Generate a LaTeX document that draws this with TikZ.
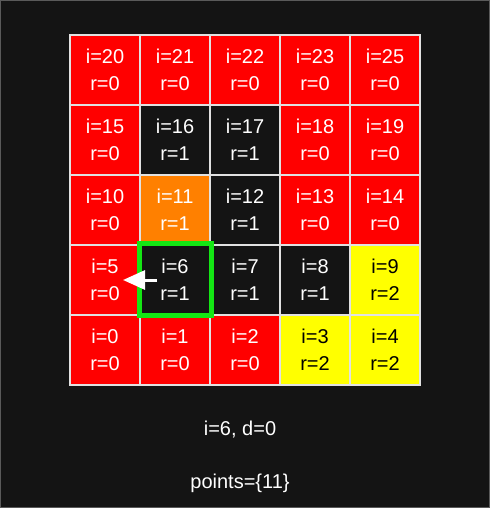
\documentclass[tikz,border=0pt]{standalone}
\usepackage{fontspec}
\setmainfont{Liberation Sans}
\usepackage{tikz}
\usetikzlibrary{arrows.meta}

\definecolor{bgdark}{RGB}{20,20,20}
\definecolor{framegray}{RGB}{90,90,90}
\definecolor{gridgray}{RGB}{225,225,225}
\definecolor{cellred}{RGB}{255,0,0}
\definecolor{cellorange}{RGB}{255,128,0}
\definecolor{cellyellow}{RGB}{255,255,0}
\definecolor{markgreen}{RGB}{20,230,20}

\tikzset{
	cell/.style={draw=gridgray, line width=1.5pt, minimum size=70pt, inner sep=0pt,
		align=center, text=white, font=\fontsize{20}{27}\selectfont},
	redcell/.style={cell, fill=cellred},
	darkcell/.style={cell, fill=bgdark},
	orangecell/.style={cell, fill=cellorange},
	yellowcell/.style={cell, fill=cellyellow, text=black},
	infotext/.style={text=white, font=\fontsize{20}{24}\selectfont}
}

\begin{document}
\begin{tikzpicture}[x=1pt, y=-1pt]
			\useasboundingbox (0,0) rectangle (491,508);
			\fill[white] (0,0) rectangle (491,508);
			\draw[fill=bgdark, draw=framegray, line width=1pt] (0.5,0.5) rectangle (489,507);
			% Top row
			\node[redcell] (c20) at (105,70) {i=20\\r=0};
			\node[redcell] (c21) at (175,70) {i=21\\r=0};
			\node[redcell] (c22) at (245,70) {i=22\\r=0};
			\node[redcell] (c23) at (315,70) {i=23\\r=0};
			\node[redcell] (c25) at (385,70) {i=25\\r=0};
			% Second row
			\node[redcell] (c15) at (105,140) {i=15\\r=0};
			\node[darkcell] (c16) at (175,140) {i=16\\r=1};
			\node[darkcell] (c17) at (245,140) {i=17\\r=1};
			\node[redcell] (c18) at (315,140) {i=18\\r=0};
			\node[redcell] (c19) at (385,140) {i=19\\r=0};
			% Third row
			\node[redcell] (c10) at (105,210) {i=10\\r=0};
			\node[orangecell] (c11) at (175,210) {i=11\\r=1};
			\node[darkcell] (c12) at (245,210) {i=12\\r=1};
			\node[redcell] (c13) at (315,210) {i=13\\r=0};
			\node[redcell] (c14) at (385,210) {i=14\\r=0};
			% Fourth row
			\node[redcell] (c5) at (105,280) {i=5\\r=0};
			\node[darkcell] (c6) at (175,280) {i=6\\r=1};
			\node[darkcell] (c7) at (245,280) {i=7\\r=1};
			\node[darkcell] (c8) at (315,280) {i=8\\r=1};
			\node[yellowcell] (c9) at (385,280) {i=9\\r=2};
			% Bottom row
			\node[redcell] (c0) at (105,350) {i=0\\r=0};
			\node[redcell] (c1) at (175,350) {i=1\\r=0};
			\node[redcell] (c2) at (245,350) {i=2\\r=0};
			\node[yellowcell] (c3) at (315,350) {i=3\\r=2};
			\node[yellowcell] (c4) at (385,350) {i=4\\r=2};
			% Current cell and step
			\draw[markgreen, line width=5pt] ([shift={(0.5,-0.5)}]c6.north west) rectangle ([shift={(0.5,-0.5)}]c6.south east);
			\coordinate (arrowstart) at (157,280);
			\coordinate (arrowend) at (123,280);
			\draw[white, line width=3pt, -{Triangle[length=22pt, width=19pt]}] (arrowstart) -- (arrowend);
			% Status lines
			\node[infotext] (state) at (240,430) {i=6, d=0};
			\node[infotext] (points) at (240,483) {points=\{11\}};
			\end{tikzpicture}
\end{document}
